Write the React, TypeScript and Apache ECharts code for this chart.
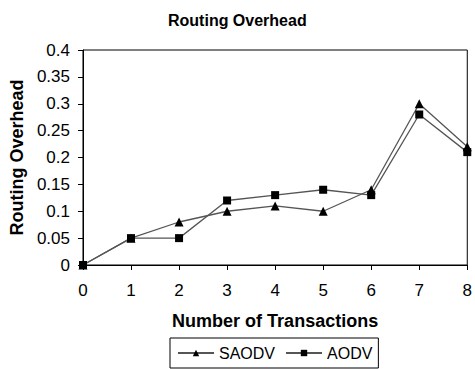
import React, { useEffect, useRef } from "react";
import * as echarts from "echarts";

const transactions = [0, 1, 2, 3, 4, 5, 6, 7, 8];
const saodv = [0, 0.05, 0.08, 0.1, 0.11, 0.1, 0.14, 0.3, 0.22];
const aodv = [0, 0.05, 0.05, 0.12, 0.13, 0.14, 0.13, 0.28, 0.21];
const seriesNames = ["SAODV", "AODV"];

const FONT = "'Liberation Sans', Arial, sans-serif";

export default function App() {
  const ref = useRef<HTMLDivElement>(null);
  useEffect(() => {
    if (!ref.current) return;
    const chart = echarts.init(ref.current, null, { renderer: "svg" });
    const pairs = (ys: number[]) => transactions.map((x, i) => [x, ys[i]]);
    chart.setOption({
      animation: false,
      backgroundColor: "#fff",
      title: {
        text: "Routing Overhead",
        left: 163,
        top: 7,
        textStyle: { fontFamily: FONT, fontSize: 16, fontWeight: "bold", color: "#000" },
      },
      legend: {
        left: 170,
        top: 338,
        orient: "horizontal",
        padding: [6, 6, 6, 7],
        itemWidth: 36,
        itemHeight: 8,
        itemGap: 10,
        borderColor: "#000",
        borderWidth: 1,
        textStyle: { fontFamily: FONT, fontSize: 16, color: "#000", lineHeight: 18 },
        data: seriesNames,
      },
      grid: {
        left: 81,
        right: 5,
        top: 50,
        bottom: 104,
        show: true,
        borderColor: "#000",
        borderWidth: 1,
        backgroundColor: "transparent",
      },
      xAxis: {
        type: "value",
        min: 0,
        max: 8,
        interval: 1,
        name: "Number of Transactions",
        nameLocation: "middle",
        nameGap: 47,
        nameTextStyle: { fontFamily: FONT, fontSize: 18, fontWeight: "bold", color: "#000" },
        axisLine: { show: true, onZero: false, lineStyle: { color: "#000", width: 1 } },
        axisTick: { show: true, inside: false, length: 5, lineStyle: { color: "#000" } },
        axisLabel: { fontFamily: FONT, fontSize: 17, color: "#000", margin: 17 },
        splitLine: { show: false },
      },
      yAxis: {
        type: "value",
        min: 0,
        max: 0.4,
        interval: 0.05,
        name: "Routing Overhead",
        nameLocation: "middle",
        nameGap: 55,
        nameTextStyle: { fontFamily: FONT, fontSize: 18, fontWeight: "bold", color: "#000" },
        axisLine: { show: true, onZero: false, lineStyle: { color: "#000", width: 1 } },
        axisTick: { show: true, inside: false, length: 5, lineStyle: { color: "#000" } },
        axisLabel: { fontFamily: FONT, fontSize: 17, color: "#000", margin: 13 },
        splitLine: { show: false },
      },
      series: [
        {
          name: seriesNames[0],
          type: "line",
          data: pairs(saodv),
          symbol: "triangle",
          symbolSize: 9,
          itemStyle: { color: "#000" },
          lineStyle: { color: "#555", width: 1.3 },
        },
        {
          name: seriesNames[1],
          type: "line",
          data: pairs(aodv),
          symbol: "rect",
          symbolSize: 8,
          itemStyle: { color: "#000" },
          lineStyle: { color: "#555", width: 1.3 },
        },
      ],
    });
    return () => chart.dispose();
  }, []);
  return <div ref={ref} style={{ width: 475, height: 369, position: "absolute", left: 0, top: 0 }} />;
}
